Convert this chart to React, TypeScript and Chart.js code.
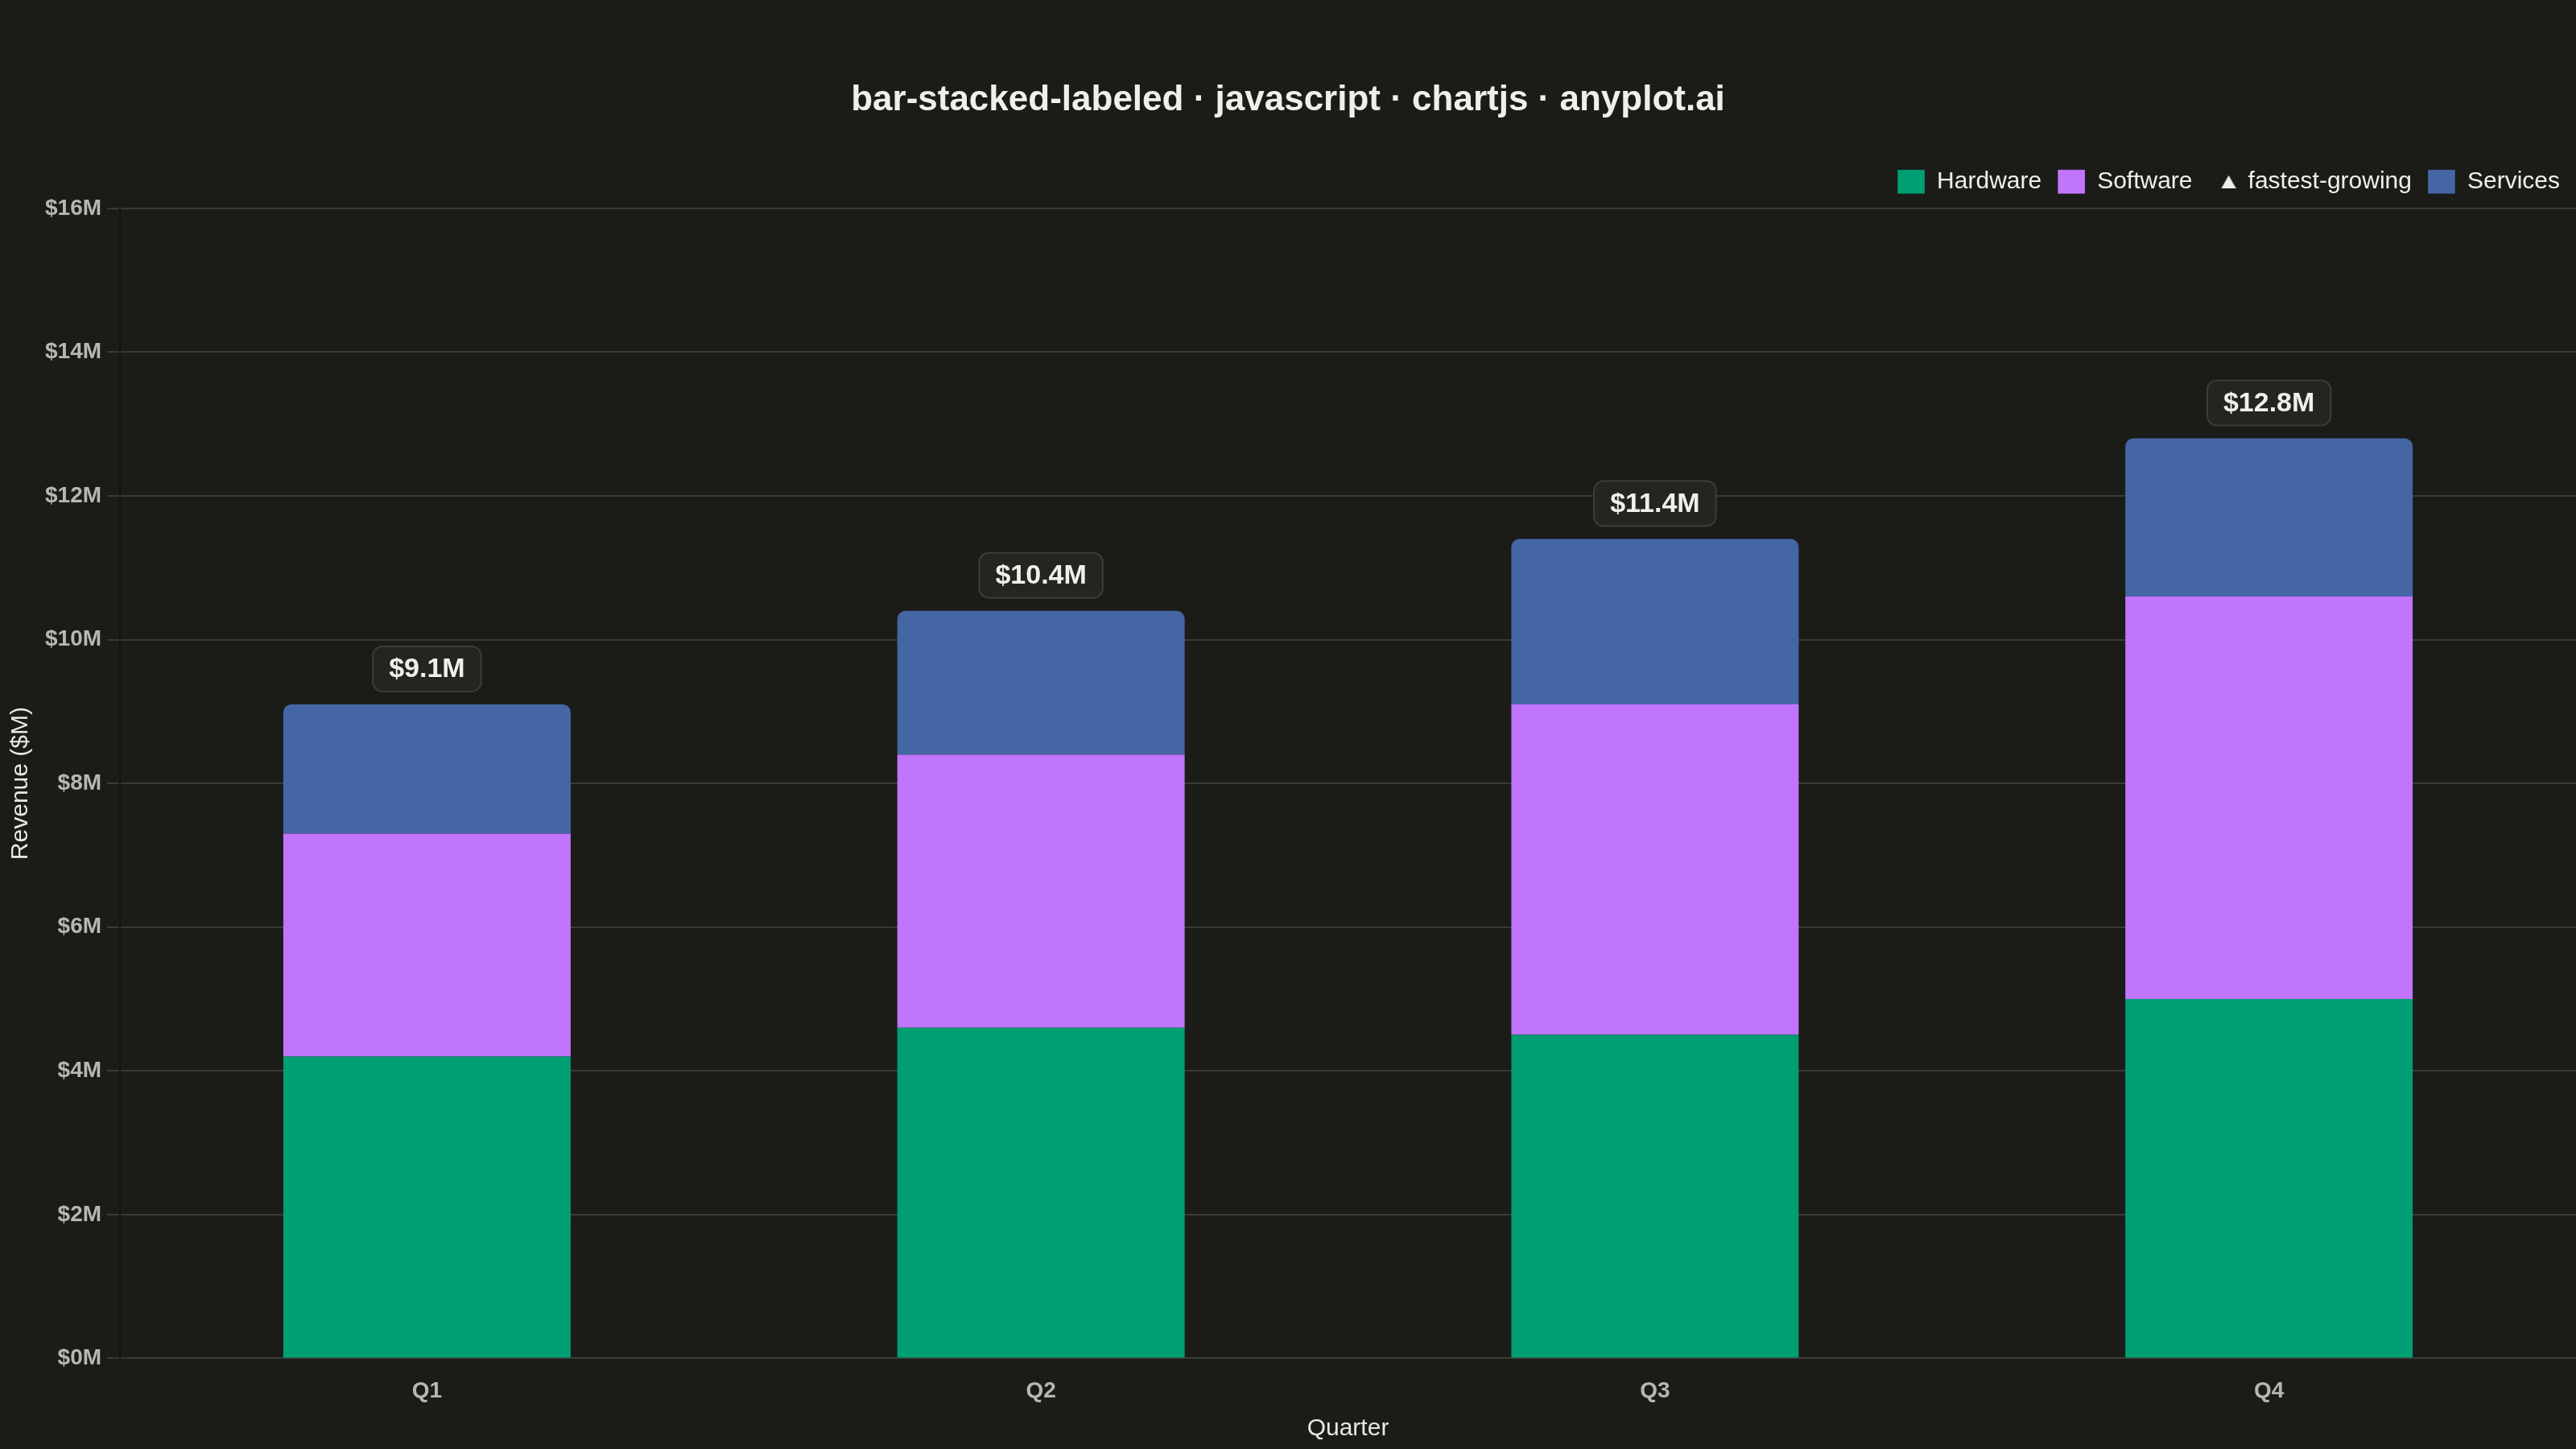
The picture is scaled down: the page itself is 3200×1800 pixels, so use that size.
import React, { useEffect, useRef } from 'react';
import { Chart, registerables } from 'chart.js';

Chart.register(...registerables);

// data
const quarters = ['Q1', 'Q2', 'Q3', 'Q4'];
const hardware = [4.2, 4.6, 4.5, 5.0];
const software = [3.1, 3.8, 4.6, 5.6];
const services = [1.8, 2.0, 2.3, 2.2];
const yTicks = [0, 2, 4, 6, 8, 10, 12, 14, 16];
const fastestLabel = 'fastest-growing';

const BG = '#1b1b18';
const INK = '#f0efe8';
const INK_SOFT = '#b8b7af';
const GRID = '#3a3a36';
const FONT = '"Liberation Sans", Arial, sans-serif';
const colors = {
    hardware: '#009E73',
    software: '#C175FB',
    services: '#4466A4',
};

const totalLabels = {
    id: 'totalLabels',
    afterDatasetsDraw(chart: any) {
        const { ctx } = chart;
        const meta = chart.getDatasetMeta(chart.data.datasets.length - 1);
        ctx.save();
        ctx.font = `bold 34px ${FONT}`;
        ctx.textAlign = 'center';
        ctx.textBaseline = 'middle';
        meta.data.forEach((bar: any, i: number) => {
            const total = hardware[i] + software[i] + services[i];
            const text = `$${total.toFixed(1)}M`;
            const w = ctx.measureText(text).width + 40;
            const h = 56;
            const bottom = bar.y - 16;
            ctx.beginPath();
            ctx.roundRect(bar.x - w / 2, bottom - h, w, h, 12);
            ctx.fillStyle = '#242421';
            ctx.fill();
            ctx.lineWidth = 2;
            ctx.strokeStyle = '#3d3d38';
            ctx.stroke();
            ctx.fillStyle = INK;
            ctx.fillText(text, bar.x, bottom - h / 2 + 1);
        });
        ctx.restore();
    },
};

// extra space between legend and plot
const legendGap = {
    id: 'legendGap',
    beforeInit(chart: any) {
        const legend = chart.legend;
        if (!legend) return;
        const fit = legend.fit;
        legend.fit = function () {
            fit.call(this);
            this.height += 8;
        };
    },
};

const App: React.FC = () => {
    const chartRef = useRef<HTMLCanvasElement>(null);

    useEffect(() => {
        let chartInstance: Chart | undefined;
        if (chartRef.current) {
            // legend marker, drawn right of the box centre
            const tri = document.createElement('canvas');
            tri.width = 34;
            tri.height = 16;
            const tctx = tri.getContext('2d');
            if (tctx) {
                tctx.fillStyle = INK;
                tctx.beginPath();
                tctx.moveTo(25, 0);
                tctx.lineTo(34, 16);
                tctx.lineTo(16, 16);
                tctx.closePath();
                tctx.fill();
            }

            Chart.defaults.font.family = FONT;

            chartInstance = new Chart(chartRef.current, {
                type: 'bar',
                data: {
                    labels: quarters,
                    datasets: [
                        { label: 'Hardware', data: hardware, backgroundColor: colors.hardware, borderWidth: 0 },
                        { label: 'Software', data: software, backgroundColor: colors.software, borderWidth: 0 },
                        {
                            label: 'Services',
                            data: services,
                            backgroundColor: colors.services,
                            borderWidth: 0,
                            borderRadius: { topLeft: 10, topRight: 10, bottomLeft: 0, bottomRight: 0 },
                        },
                    ],
                },
                options: {
                    animation: false,
                    responsive: true,
                    maintainAspectRatio: false,
                    datasets: { bar: { barPercentage: 0.585, categoryPercentage: 0.8 } },
                    layout: { padding: { top: 0, left: 0, right: 0, bottom: 3 } },
                    plugins: {
                        title: {
                            display: true,
                            text: 'bar-stacked-labeled · javascript · chartjs · anyplot.ai',
                            color: INK,
                            font: { size: 44, weight: 'bold' },
                            padding: { top: 98, bottom: 40 },
                        },
                        legend: {
                            position: 'top',
                            align: 'end',
                            labels: {
                                color: INK,
                                font: { size: 30 },
                                usePointStyle: true,
                                pointStyleWidth: 34,
                                boxHeight: 30,
                                padding: 20,
                                generateLabels: (chart: any) => {
                                    const items: any[] = chart.data.datasets.map((ds: any, i: number) => ({
                                        text: ds.label,
                                        fillStyle: ds.backgroundColor,
                                        strokeStyle: 'rgba(0,0,0,0.25)',
                                        lineWidth: 1,
                                        pointStyle: 'rect',
                                        hidden: false,
                                        datasetIndex: i,
                                        fontColor: INK,
                                    }));
                                    items.splice(2, 0, {
                                        text: fastestLabel,
                                        fillStyle: INK,
                                        strokeStyle: INK,
                                        lineWidth: 0,
                                        pointStyle: tri,
                                        hidden: false,
                                        fontColor: INK,
                                    });
                                    return items;
                                },
                            },
                            onClick: () => {},
                        },
                        tooltip: { enabled: false },
                    },
                    scales: {
                        x: {
                            stacked: true,
                            grid: { display: false, drawTicks: false },
                            border: { display: false },
                            ticks: { color: INK_SOFT, font: { size: 28, weight: 'bold' }, padding: 24 },
                            title: {
                                display: true,
                                text: 'Quarter',
                                color: '#e8e7e0',
                                font: { size: 30 },
                                padding: { top: -12, bottom: 4 },
                            },
                        },
                        y: {
                            stacked: true,
                            min: 0,
                            max: 16,
                            afterBuildTicks: (scale: any) => {
                                scale.ticks = yTicks.map((v) => ({ value: v }));
                            },
                            ticks: {
                                color: INK_SOFT,
                                font: { size: 28, weight: 'bold' },
                                padding: 7,
                                callback: (v: any) => `$${v}M`,
                            },
                            grid: { color: GRID, lineWidth: 2, tickLength: 16 },
                            border: { display: true, color: '#151512', width: 2 },
                            title: {
                                display: true,
                                text: 'Revenue ($M)',
                                color: '#e8e7e0',
                                font: { size: 30 },
                                padding: { top: 8, bottom: 5 },
                            },
                        },
                    },
                },
                plugins: [totalLabels, legendGap],
            });
        }
        return () => {
            if (chartInstance) {
                chartInstance.destroy();
            }
        };
    }, []);

    return (
        <div style={{ position: 'fixed', left: 0, top: 0, width: '100vw', height: '100vh', background: BG }}>
            <canvas ref={chartRef}></canvas>
        </div>
    );
};

export default App;
